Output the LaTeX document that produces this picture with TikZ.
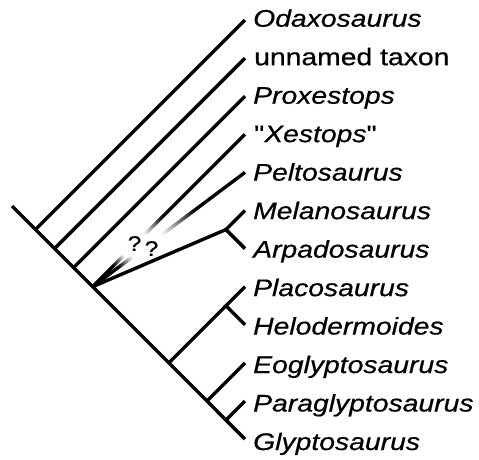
\documentclass[tikz,border=0pt]{standalone}
\usepackage{fontspec}
\setmainfont{Liberation Sans}[FakeStretch=1.18, FakeBold=0.6, Ligatures=TeXOff]
\usetikzlibrary{calc}
\tikzset{
  branch/.style={line width=3.4pt, line cap=butt, line join=miter},
  taxon/.style={anchor=base west, inner sep=0pt, font=\fontsize{24}{28}\selectfont\itshape},
  plaintaxon/.style={anchor=base west, inner sep=0pt, font=\fontsize{24}{28}\selectfont},
  query/.style={inner sep=0pt, font=\fontsize{21}{24}\selectfont},
}
% gradient piece of a branch: from #1 to #2, black percentage #3 -> #4
\newcommand\gradseg[4]{%
  \foreach \k in {1,...,20}{%
    \pgfmathsetmacro\pa{(\k-1)/20}%
    \pgfmathsetmacro\pb{min(1,\k/20+0.01)}%
    \pgfmathtruncatemacro\cc{#3+(#4-#3)*(\k-0.5)/20}%
    \draw[branch,draw=black!\cc] ($(#1)!\pa!(#2)$) -- ($(#1)!\pb!(#2)$);
  }}
\begin{document}
\begin{tikzpicture}[x=1pt,y=-1pt]
\useasboundingbox (0,0) rectangle (479,459);
% tips
\foreach \i in {1,...,12}{\coordinate (t\i) at (245,{20+38.1*(\i-1)});}
% labels
\node[taxon]      (L1)  at (253,26.7)  {Odaxosaurus};
\node[plaintaxon] (L2)  at (254,65.2)  {unnamed taxon};
\node[taxon]      (L3)  at (253,103.7) {Proxestops};
\node[plaintaxon] (L4)  at (254,142.1) {"\textit{Xestops}"};
\node[taxon]      (L5)  at (253,180.6) {Peltosaurus};
\node[taxon]      (L6)  at (253,219.1) {Melanosaurus};
\node[taxon]      (L7)  at (253,257.6) {Arpadosaurus};
\node[taxon]      (L8)  at (253,296.1) {Placosaurus};
\node[taxon]      (L9)  at (253,334.5) {Helodermoides};
\node[taxon]      (L10) at (253,373.0) {Eoglyptosaurus};
\node[taxon]      (L11) at (253,411.5) {Paraglyptosaurus};
\node[taxon]      (L12) at (253,450.0) {Glyptosaurus};
% internal points
\coordinate (S)  at (12,206);
\coordinate (a1) at (35.5,229.5);
\coordinate (a2) at (54.55,248.55);
\coordinate (a3) at (73.6,267.6);
\coordinate (P)  at (92.65,286.65);
\coordinate (M)  at (225.95,229.55);
\coordinate (N1) at (225.95,305.75);
\coordinate (a8) at (168.85,362.85);
\coordinate (a10) at (206.95,400.95);
\coordinate (a11) at (226,420);
% trunk
\draw[branch] (S) -- (t12);
% simple branches
\draw[branch] (a1) -- (t1);
\draw[branch] (a2) -- (t2);
\draw[branch] (a3) -- (t3);
\draw[branch] (P) -- (M);
\draw[branch] (t6) -- (M) -- (t7);
\draw[branch] (a8) -- (N1);
\draw[branch] (t8) -- (N1) -- (t9);
\draw[branch] (a10) -- (t10);
\draw[branch] (a11) -- (t11);
% uncertain branch to "Xestops"
\coordinate (x1) at ($(P)!0.142!(t4)$);
\coordinate (x2) at ($(P)!0.208!(t4)$);
\coordinate (x3) at ($(P)!0.339!(t4)$);
\coordinate (x4) at ($(P)!0.457!(t4)$);
\draw[branch] (P) -- (x1);
\gradseg{x1}{x2}{100}{0}
\gradseg{x3}{x4}{0}{100}
\draw[branch] (x4) -- (t4);
% uncertain branch to Peltosaurus
\coordinate (p1) at ($(P)!0.175!(t5)$);
\coordinate (p2) at ($(P)!0.262!(t5)$);
\coordinate (p3) at ($(P)!0.452!(t5)$);
\coordinate (p4) at ($(P)!0.671!(t5)$);
\draw[branch] (P) -- (p1);
\gradseg{p1}{p2}{100}{0}
\gradseg{p3}{p4}{0}{100}
\draw[branch] (p4) -- (t5);
% question marks
\node[query] (q1) at (134.5,243.5) {?};
\node[query] (q2) at (151.5,248.5) {?};
\end{tikzpicture}
\end{document}
